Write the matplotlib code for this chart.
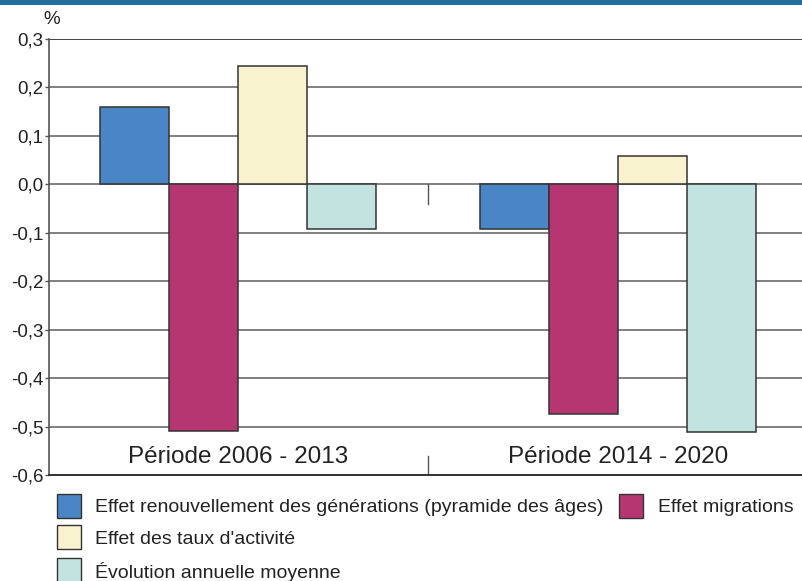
import matplotlib
matplotlib.use("Agg")
import matplotlib.pyplot as plt
from matplotlib.patches import Rectangle
import numpy as np

plt.rcParams['font.family'] = ['Liberation Sans', 'DejaVu Sans']

periods = ["Période 2006 - 2013", "Période 2014 - 2020"]
series_names = [
    "Effet renouvellement des générations (pyramide des âges)",
    "Effet migrations",
    "Effet des taux d'activité",
    "Évolution annuelle moyenne",
]
renouvellement = [0.16, -0.093]
migrations = [-0.51, -0.475]
taux_activite = [0.245, 0.058]
evolution = [-0.093, -0.512]
series_values = [renouvellement, migrations, taux_activite, evolution]
colors = ["#4a86c5", "#b53670", "#f8f2cf", "#c3e3e1"]
yticks = [0.3, 0.2, 0.1, 0.0, -0.1, -0.2, -0.3, -0.4, -0.5, -0.6]
ytick_labels = ["0,3", "0,2", "0,1", "0,0", "-0,1", "-0,2", "-0,3", "-0,4", "-0,5", "-0,6"]

W, H = 803, 581
fig = plt.figure(figsize=(W / 100, H / 100), dpi=100)
# top band
fig.add_artist(Rectangle((0, 1 - 5 / H), 1, 5 / H, transform=fig.transFigure,
                         facecolor="#236f9b", edgecolor="none"))

left, right, top, bottom = 49, 803, 39, 475
ax = fig.add_axes([left / W, 1 - bottom / H, (right - left) / W, (bottom - top) / H])

x = np.arange(len(periods))
w = 69 / 380
offsets = np.array([-1.5, -0.5, 0.5, 1.5]) * w
for vals, off, c in zip(series_values, offsets, colors):
    ax.bar(x + off, vals, w, color=c, edgecolor="#333333", linewidth=1.1, zorder=3)

ax.set_ylim(-0.6, 0.3)
ax.set_xlim(-(238 - 49) / 380, 1 + (803 - 618) / 380)
ax.set_yticks(yticks)
ax.set_yticklabels(ytick_labels, fontsize=13.5, color="#222222")
ax.tick_params(axis="y", length=3, width=1, color="#555555", pad=1)
ax.set_xticks([])
for yv in yticks:
    ax.axhline(yv, color="#222222" if yv == 0.3 else "#6a6a6a", linewidth=1.2, zorder=1)

for s in ["top", "right"]:
    ax.spines[s].set_visible(False)
ax.spines["left"].set_color("#555555")
ax.spines["bottom"].set_color("#333333")
ax.spines["left"].set_linewidth(1.2)
ax.spines["bottom"].set_linewidth(1.4)

# separators
ax.plot([0.5, 0.5], [0.0, -0.04], color="#555555", linewidth=1, zorder=2)
ax.plot([0.5, 0.5], [-0.56, -0.6], color="#555555", linewidth=1, zorder=2)

for xi, p in zip(x, periods):
    ax.text(xi, -0.563, p, ha="center", va="center", fontsize=17.5, color="#222222")

fig.text(43 / W, 1 - 20 / H, "%", fontsize=13.5, ha="left", va="center", color="#222222")

# legend
legend_pos = [(57, 494, 95), (619, 494, 658), (57, 525, 95), (57, 558, 95)]
for (px, py, tx), c, name in zip(legend_pos, colors, series_names):
    fig.add_artist(Rectangle((px / W, 1 - (py + 24) / H), 24 / W, 24 / H,
                             transform=fig.transFigure, facecolor=c,
                             edgecolor="#333333", linewidth=1))
    fig.text(tx / W, 1 - (py + 14) / H, name, fontsize=14, ha="left",
             va="center", color="#222222")

fig.savefig("out.png", dpi=100)
